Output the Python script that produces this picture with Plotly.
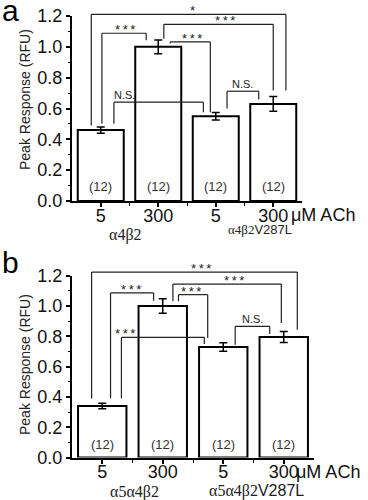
import plotly.graph_objects as go

# ---------------- data ----------------
categories = [0, 1, 2, 3]
tick_labels = ["5", "300", "5", "300"]
n_labels = ["(12)", "(12)", "(12)", "(12)"]

a_values = [0.46, 1.00, 0.55, 0.63]
a_errors = [0.02, 0.045, 0.024, 0.048]
b_values = [0.34, 1.00, 0.73, 0.795]
b_errors = [0.018, 0.048, 0.028, 0.036]

a_groups = ["α4β2", "α4β2"]
b_groups = ["α5α4β2", "α5α4β2"]
mutant_suffix = "V287L"
unit_label = "μM ACh"
y_title = "Peak Response (RFU)"

# significance brackets: (x_left, x_right, y_top, y_left_end, y_right_end, label, text_x)
a_brackets = [
    (-0.165, 3.22, 1.211, 0.49, 0.716, "*", 1.60),
    (1.097, 3.0, 1.146, 1.052, 0.716, "***", 2.16),
    (0.02, 0.79, 1.088, 0.503, 1.043, "***", 0.425),
    (1.207, 1.906, 1.032, 1.021, 0.576, "***", 1.59),
    (0.229, 1.785, 0.641, 0.501, 0.576, "N.S.", 0.41),
    (2.196, 2.747, 0.712, 0.60, 0.658, "N.S.", 2.47),
]
b_brackets = [
    (-0.176, 3.224, 1.224, 0.39, 0.844, "***", 1.633),
    (1.168, 2.96, 1.145, 1.031, 0.888, "***", 2.18),
    (0.137, 0.849, 1.086, 0.39, 1.035, "***", 0.48),
    (1.26, 1.743, 1.075, 1.031, 0.789, "***", 1.47),
    (0.317, 1.687, 0.793, 0.39, 0.749, "***", 0.37),
    (2.197, 2.768, 0.866, 0.745, 0.815, "N.S.", 2.48),
]

W, H = 368, 500
XR = [-0.5, 3.5]
YR = [0, 1.2]
SANS = "Liberation Sans, Arial, sans-serif"

fig = go.Figure()

for values, errors, xa, ya in [(a_values, a_errors, "x", "y"), (b_values, b_errors, "x2", "y2")]:
    fig.add_trace(go.Bar(
        x=categories, y=values, width=0.8, xaxis=xa, yaxis=ya,
        marker=dict(color="white", line=dict(color="black", width=2)),
        error_y=dict(type="data", array=errors, color="black", thickness=1.5, width=4),
        showlegend=False, hoverinfo="skip",
    ))

def fx(x):
    return (x - XR[0]) / (XR[1] - XR[0])

def fy(y):
    return (y - YR[0]) / (YR[1] - YR[0])

shapes = []
annotations = []

def add_brackets(brackets, xa, ya):
    xref = xa + " domain"
    yref = ya + " domain"
    for xl, xr, yt, yle, yre, lab, tx in brackets:
        line = dict(color="#222", width=1.2)
        shapes.append(dict(type="line", xref=xref, yref=yref, x0=fx(xl), x1=fx(xl), y0=fy(yle), y1=fy(yt), line=line))
        shapes.append(dict(type="line", xref=xref, yref=yref, x0=fx(xl), x1=fx(xr), y0=fy(yt), y1=fy(yt), line=line))
        shapes.append(dict(type="line", xref=xref, yref=yref, x0=fx(xr), x1=fx(xr), y0=fy(yre), y1=fy(yt), line=line))
        stars = "*" in lab
        text = "\u2009".join(list(lab)) if stars else lab
        annotations.append(dict(
            xref=xref, yref=yref, x=fx(tx), y=fy(yt), text=text, showarrow=False,
            xanchor="center", yanchor="bottom", yshift=-6 if stars else -1,
            font=dict(family=SANS, size=13 if stars else 11, color="#222"),
        ))

add_brackets(a_brackets, "x", "y")
add_brackets(b_brackets, "x2", "y2")

# n labels inside bars
for xa, ya, shift in [("x", "y", 15), ("x2", "y2", 13.5)]:
    for c, t in zip(categories, n_labels):
        annotations.append(dict(xref=xa, yref=ya, x=c, y=0, text=t, showarrow=False,
                                yanchor="middle", yshift=shift,
                                font=dict(family=SANS, size=13, color="#333")))

def px(x):
    return x / W

def py(y):
    return 1 - y / H

# y titles
for yc in [100, 365]:
    annotations.append(dict(xref="paper", yref="paper", x=px(25), y=py(yc), text=y_title,
                            textangle=-90, showarrow=False, xanchor="center", yanchor="middle",
                            font=dict(family=SANS, size=14, color="#222")))

# unit labels
annotations.append(dict(xref="paper", yref="paper", x=px(289), y=py(215), text=unit_label,
                        showarrow=False, xanchor="left", yanchor="middle",
                        font=dict(family=SANS, size=18, color="#111")))
annotations.append(dict(xref="paper", yref="paper", x=px(294), y=py(472), text=unit_label,
                        showarrow=False, xanchor="left", yanchor="middle",
                        font=dict(family=SANS, size=18, color="#111")))

# group labels
def glabel(base, mut=False):
    s = '<span style="font-family:Liberation Serif">%s</span>' % base
    if mut:
        s += mutant_suffix
    return s

annotations.append(dict(xref="paper", yref="paper", x=px(125), y=py(235), text=glabel(a_groups[0]),
                        showarrow=False, xanchor="center", yanchor="middle",
                        font=dict(family=SANS, size=16, color="#222")))
annotations.append(dict(xref="paper", yref="paper", x=px(260), y=py(230), text=glabel(a_groups[1], True),
                        showarrow=False, xanchor="center", yanchor="middle",
                        font=dict(family=SANS, size=13, color="#222")))
annotations.append(dict(xref="paper", yref="paper", x=px(134), y=py(491.5), text=glabel(b_groups[0]),
                        showarrow=False, xanchor="center", yanchor="middle",
                        font=dict(family=SANS, size=16, color="#222")))
annotations.append(dict(xref="paper", yref="paper", x=px(256.5), y=py(491), text=glabel(b_groups[1], True),
                        showarrow=False, xanchor="center", yanchor="middle",
                        font=dict(family=SANS, size=16, color="#222")))

# panel letters
annotations.append(dict(xref="paper", yref="paper", x=px(0), y=py(10), text="a", showarrow=False,
                        xanchor="left", yanchor="middle", font=dict(family=SANS, size=30, color="black")))
annotations.append(dict(xref="paper", yref="paper", x=px(0), y=py(262), text="b", showarrow=False,
                        xanchor="left", yanchor="middle", font=dict(family=SANS, size=30, color="black")))

xaxis_common = dict(range=XR, tickmode="array", tickvals=categories, ticktext=tick_labels,
                    showline=True, linecolor="black", linewidth=2, ticks="outside", ticklen=4,
                    tickwidth=1.5, tickcolor="black", showgrid=False, zeroline=False,
                    ticklabelstandoff=-7,
                    tickfont=dict(family=SANS, size=18, color="#111"), fixedrange=True,
                    minor=dict(tickvals=[0.5, 1.5, 2.5], ticks="outside", ticklen=3, tickcolor="black", tickwidth=1.2))
yaxis_common = dict(range=YR, tickmode="linear", tick0=0, dtick=0.2, tickformat=".1f",
                    showline=True, linecolor="black", linewidth=2, ticks="outside", ticklen=4,
                    tickwidth=1.5, tickcolor="black", showgrid=False, zeroline=False,
                    tickfont=dict(family=SANS, size=18, color="#111"), fixedrange=True,
                    minor=dict(dtick=0.1, ticks="outside", ticklen=2, tickcolor="black", tickwidth=1))

fig.update_layout(
    width=W, height=H, margin=dict(l=0, r=0, t=0, b=0, autoexpand=False),
    paper_bgcolor="white", plot_bgcolor="white", bargap=0.2,
    xaxis=dict(domain=[px(72), px(302)], anchor="y", **xaxis_common),
    yaxis=dict(domain=[py(201), py(16)], anchor="x", **yaxis_common),
    xaxis2=dict(domain=[px(72), px(314)], anchor="y2", **xaxis_common),
    yaxis2=dict(domain=[py(457.5), py(275.7)], anchor="x2", **yaxis_common),
    shapes=shapes, annotations=annotations,
)

fig.write_html("out.html", config={"displayModeBar": False},
               post_script="document.body.style.margin='0';document.body.style.overflow='hidden';")
